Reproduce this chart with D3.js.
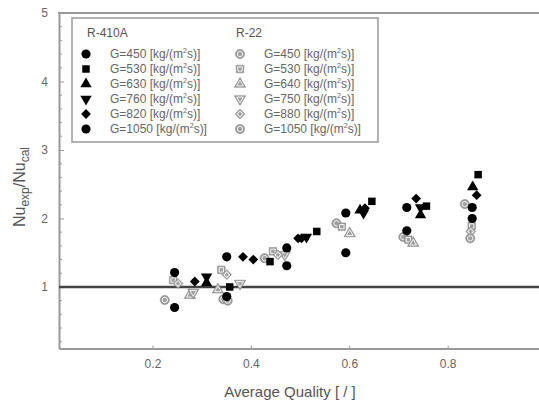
<!DOCTYPE html>
<html lang="en">
<head>
<meta charset="UTF-8">
<title>Nu ratio vs average quality</title>
<script src="https://cdn.jsdelivr.net/npm/d3@7/dist/d3.min.js"></script>
<style>
  body { margin: 0; background: #fff; }
  text { font-family: "Liberation Sans", Arial, sans-serif; }
</style>
</head>
<body>
<script>

let w = 539, h = 406;

// x ticks / y ticks
let xTicks = [0.2, 0.4, 0.6, 0.8];
let yTicks = [1, 2, 3, 4, 5];

// R-410A series (black), [quality, Nu_exp/Nu_cal]
let r410_450 = [[0.245, 1.21], [0.351, 1.44], [0.473, 1.57], [0.593, 2.08], [0.717, 2.16], [0.85, 2.16]];
let r410_530 = [[0.357, 1.00], [0.439, 1.37], [0.534, 1.81], [0.646, 2.25], [0.757, 2.18], [0.862, 2.64]];
let r410_630 = [[0.31, 1.06], [0.622, 2.12], [0.745, 2.05], [0.851, 2.46]];
let r410_760 = [[0.31, 1.15], [0.629, 2.08], [0.745, 2.16], [0.513, 1.73]];
let r410_820 = [[0.286, 1.08], [0.384, 1.44], [0.405, 1.40], [0.496, 1.71], [0.503, 1.71], [0.632, 2.15], [0.736, 2.29], [0.859, 2.34]];
let r410_1050 = [[0.245, 0.70], [0.351, 0.86], [0.473, 1.31], [0.593, 1.50], [0.717, 1.82], [0.85, 2.00]];

// R-22 series (grey)
let r22_450 = [[0.225, 0.81], [0.344, 0.82], [0.428, 1.42], [0.574, 1.93], [0.710, 1.73], [0.835, 2.21]];
let r22_530 = [[0.242, 1.10], [0.340, 1.25], [0.445, 1.52], [0.585, 1.88], [0.72, 1.69], [0.849, 1.89]];
let r22_640 = [[0.276, 0.88], [0.333, 0.96], [0.601, 1.78], [0.73, 1.64]];
let r22_750 = [[0.283, 0.92], [0.378, 1.05], [0.469, 1.47]];
let r22_880 = [[0.252, 1.05], [0.351, 1.18], [0.455, 1.47], [0.847, 1.81]];
let r22_1050 = [[0.846, 1.71], [0.353, 0.80]];

let r410Labels = ["450", "530", "630", "760", "820", "1050"];
let r22Labels = ["450", "530", "640", "750", "880", "1050"];

let shapes = ["circle", "square", "up", "down", "diamond", "circle"];
let r410Data = [r410_450, r410_530, r410_630, r410_760, r410_820, r410_1050];
let r22Data = [r22_450, r22_530, r22_640, r22_750, r22_880, r22_1050];

let xScale = d3.scaleLinear().domain([0.01, 1.0]).range([59, 546]);
let yScale = d3.scaleLinear().domain([0.1, 5]).range([348.6, 13]);

let svg = d3.select("body").append("svg")
    .attr("width", w)
    .attr("height", h);

// symbol helper
function symPath(shape, size) {
    let t = d3.symbolCircle;
    if (shape == "square" || shape == "diamond") t = d3.symbolSquare;
    if (shape == "up" || shape == "down") t = d3.symbolTriangle;
    return d3.symbol().type(t).size(size)();
}
function symRot(shape) {
    if (shape == "down") return 180;
    if (shape == "diamond") return 45;
    return 0;
}
function drawMarker(g, shape, x, y, grey) {
    let s = g.append("g").attr("transform", "translate(" + x + "," + y + ") rotate(" + symRot(shape) + ")");
    let big = shape == "circle" ? 66 : (shape == "diamond" ? 48 : 56);
    if (!grey) {
        s.append("path").attr("d", symPath(shape, big)).attr("fill", "#000");
    } else {
        s.append("path").attr("d", symPath(shape, big)).attr("fill", "#9a9a9a").attr("stroke", "#8a8a8a").attr("stroke-width", 0.6);
        s.append("path").attr("d", symPath(shape, big * 0.35)).attr("fill", "#a0a0a0").attr("stroke", "#f4f4f4").attr("stroke-width", 1);
    }
}

// y minor ticks
let minor = d3.range(0.2, 5, 0.2).filter(v => Math.abs(v - Math.round(v)) > 0.01);
svg.append("g").selectAll("line")
    .data(minor).enter().append("line")
    .attr("x1", 59).attr("x2", 62)
    .attr("y1", d => yScale(d)).attr("y2", d => yScale(d))
    .attr("stroke", "#999").attr("stroke-width", 1);

// y axis
let yAxis = d3.axisLeft(yScale).tickValues(yTicks).tickSizeInner(-5).tickSizeOuter(0).tickPadding(11).tickFormat(d3.format("d"));
let gy = svg.append("g").attr("transform", "translate(59,0)").call(yAxis);
gy.select(".domain").attr("stroke", "#999").attr("stroke-width", 2);
gy.selectAll(".tick line").attr("stroke", "#999");
gy.selectAll(".tick text").attr("font-size", 12).attr("fill", "#666");

// x axis
let xAxis = d3.axisBottom(xScale).tickValues(xTicks).tickSizeInner(-3).tickSizeOuter(0).tickPadding(11).tickFormat(d3.format(".1f"));
let gx = svg.append("g").attr("transform", "translate(0,348.6)").call(xAxis);
gx.select(".domain").attr("stroke", "#999").attr("stroke-width", 2);
gx.selectAll(".tick line").attr("stroke", "#999");
gx.selectAll(".tick text").attr("font-size", 12).attr("fill", "#666");

// top frame line
svg.append("line")
    .attr("x1", 58).attr("x2", xScale(1.0))
    .attr("y1", yScale(5)).attr("y2", yScale(5))
    .attr("stroke", "#999").attr("stroke-width", 2);

// reference line at 1
svg.append("line")
    .attr("x1", 59).attr("x2", xScale(1.0))
    .attr("y1", yScale(1)).attr("y2", yScale(1))
    .attr("stroke", "#444").attr("stroke-width", 2.5);

// points: R-22 first, black on top
let pts = svg.append("g");
r22Data.forEach(function(ser, i) {
    ser.forEach(function(d) { drawMarker(pts, shapes[i], xScale(d[0]), yScale(d[1]), true); });
});
r410Data.forEach(function(ser, i) {
    ser.forEach(function(d) { drawMarker(pts, shapes[i], xScale(d[0]), yScale(d[1]), false); });
});

// legend
let lg = svg.append("g");
lg.append("rect")
    .attr("x", 72).attr("y", 18).attr("width", 306).attr("height", 124)
    .attr("fill", "#fff").attr("stroke", "#999").attr("stroke-width", 1.5);

lg.append("text").attr("x", 87).attr("y", 37).attr("font-size", 12).attr("fill", "#555").text("R-410A");
lg.append("text").attr("x", 236).attr("y", 37).attr("font-size", 12).attr("fill", "#555").text("R-22");

function legendRow(x, y, label, shape, grey) {
    drawMarker(lg, shape, x, y, grey);
    let t = lg.append("text").attr("x", x + 24).attr("y", y + 4)
        .attr("font-size", 12).attr("fill", "#666");
    t.append("tspan").text("G=" + label + " [kg/(m");
    t.append("tspan").attr("font-size", 7).attr("dy", -5).text("2");
    t.append("tspan").attr("dy", 5).text("s)]");
}
r410Labels.forEach(function(l, i) { legendRow(86, 54 + i * 15, l, shapes[i], false); });
r22Labels.forEach(function(l, i) { legendRow(240, 54 + i * 15, l, shapes[i], true); });

// axis titles
svg.append("text")
    .attr("x", 290).attr("y", 397)
    .attr("text-anchor", "middle")
    .attr("font-size", 15).attr("fill", "#555")
    .text("Average Quality [ / ]");

let yt = svg.append("text")
    .attr("transform", "translate(25,187) rotate(-90)")
    .attr("text-anchor", "middle")
    .attr("font-size", 16).attr("fill", "#555");
yt.append("tspan").text("Nu");
yt.append("tspan").attr("font-size", 12).attr("dy", 4).text("exp");
yt.append("tspan").attr("dy", -4).text("/Nu");
yt.append("tspan").attr("font-size", 12).attr("dy", 4).text("cal");

</script>
</body>
</html>
